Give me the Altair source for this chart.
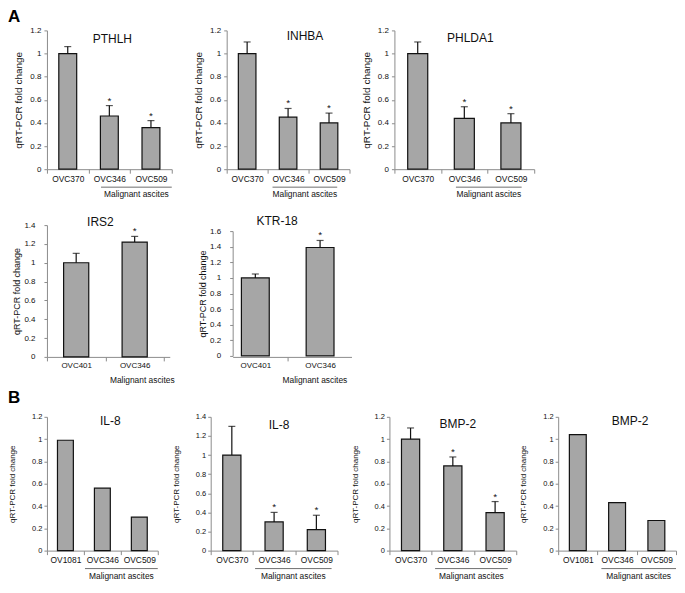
import json
import altair as alt
import pandas as pd

FONT = "Liberation Sans"

# ---------------- data ----------------
y_title = "qRT-PCR fold change"
group_label = "Malignant ascites"

pthlh_cats = ["OVC370", "OVC346", "OVC509"]
pthlh_vals = [1.00, 0.46, 0.36]
pthlh_errs = [0.06, 0.09, 0.06]
pthlh_sig = [False, True, True]

inhba_cats = ["OVC370", "OVC346", "OVC509"]
inhba_vals = [1.00, 0.45, 0.40]
inhba_errs = [0.10, 0.075, 0.085]
inhba_sig = [False, True, True]

phlda1_cats = ["OVC370", "OVC346", "OVC509"]
phlda1_vals = [1.00, 0.44, 0.40]
phlda1_errs = [0.10, 0.10, 0.08]
phlda1_sig = [False, True, True]

irs2_cats = ["OVC401", "OVC346"]
irs2_vals = [1.00, 1.22]
irs2_errs = [0.10, 0.06]
irs2_sig = [False, True]

ktr18_cats = ["OVC401", "OVC346"]
ktr18_vals = [1.00, 1.39]
ktr18_errs = [0.05, 0.09]
ktr18_sig = [False, True]

il8a_cats = ["OV1081", "OVC346", "OVC509"]
il8a_vals = [0.99, 0.56, 0.30]

il8b_cats = ["OVC370", "OVC346", "OVC509"]
il8b_vals = [1.00, 0.30, 0.22]
il8b_errs = [0.30, 0.10, 0.15]
il8b_sig = [False, True, True]

bmp2a_cats = ["OVC370", "OVC346", "OVC509"]
bmp2a_vals = [1.00, 0.76, 0.34]
bmp2a_errs = [0.10, 0.08, 0.10]
bmp2a_sig = [False, True, True]

bmp2b_cats = ["OV1081", "OVC346", "OVC509"]
bmp2b_vals = [1.04, 0.43, 0.27]

# ---------------- style / layout ----------------
BAR_FILL = "#a6a6a6"
INK = "#111111"
AXIS_GREY = "#8c8c8c"
BAR_FRAC = 0.43

ROWS = {
    1: dict(h=139, ytf=10, ylf=8, xlf=8.4, ylp=3, ytp=6, line=18, text=25),
    2: dict(h=132, ytf=9, ylf=8, xlf=8, ylp=9, ytp=2, line=18, text=23),
    3: dict(h=134, ytf=8, ylf=7.5, xlf=8.4, ylp=2, ytp=15, line=18, text=25),
}


def panel(title, cats, vals, errs, sig, ymax, row, w, tdx, tdy,
          br=None, lab=None, xdom=None, ytop=0):
    R = ROWS[row]
    H = R["h"]
    n = len(cats)
    errs = errs if errs else [0.0] * n
    sig = sig if sig else [False] * n
    df = pd.DataFrame({
        "cat": cats, "idx": list(range(n)), "val": vals, "err": errs,
        "zero": [0.0] * n, "star": ["*" if s else "" for s in sig],
    })
    xdom = xdom if xdom else [0, n]
    half = BAR_FRAC / 2
    names_js = json.dumps(cats)
    xvals = [k * 0.5 for k in range(2 * n + 1) if xdom[0] <= k * 0.5 <= xdom[1]]
    xaxis = alt.Axis(
        values=xvals, title=None, grid=False,
        labelExpr=f"datum.value % 1 == 0.5 ? {names_js}[floor(datum.value)] : ''",
        tickOpacity={"condition": {"test": "datum.value % 1 == 0.5", "value": 0}, "value": 1},
        labelOverlap=False, labelFlush=False, tickSize=4, labelPadding=1,
        labelFontSize=R["xlf"], labelFont=FONT, labelColor=INK,
        domainColor=AXIS_GREY, tickColor=AXIS_GREY,
    )
    nt = int(round(ymax / 0.2))
    yaxis = alt.Axis(
        values=[round(0.2 * k, 1) for k in range(nt + 1)], format="~g",
        title=y_title, titleFontSize=R["ytf"], titleFont=FONT, titleColor=INK,
        titleFontWeight="normal", titlePadding=R["ytp"],
        labelFontSize=R["ylf"], labelFont=FONT, labelColor=INK, labelPadding=R["ylp"],
        tickSize=3, grid=False, domainColor=AXIS_GREY, tickColor=AXIS_GREY,
    )
    xs = alt.Scale(domain=xdom, nice=False, zero=False)
    if ytop:
        ys = alt.Scale(domain=[0, ymax], nice=False, range=[H - 1, ytop])
    else:
        ys = alt.Scale(domain=[0, ymax], nice=False)

    def X(f):
        return alt.X(f, scale=xs, axis=xaxis)

    def Y(f):
        return alt.Y(f, scale=ys, axis=yaxis)

    base = alt.Chart(df).transform_calculate(
        lo=f"datum.idx + {0.5 - half}", hi=f"datum.idx + {0.5 + half}",
        c="datum.idx + 0.5", top="datum.val + datum.err",
    )
    layers = [
        base.mark_bar(fill=BAR_FILL, stroke=INK, strokeWidth=1.2).encode(
            x=X("lo:Q"), x2="hi:Q", y=Y("val:Q"), y2="zero:Q",
        )
    ]
    if any(e > 0 for e in errs):
        eb = base.transform_filter("datum.err > 0")
        layers.append(eb.mark_rule(color=INK, strokeWidth=1.2).encode(
            x=X("c:Q"), y=Y("val:Q"), y2="top:Q"))
        layers.append(eb.mark_tick(orient="horizontal", size=7, thickness=1.2, color=INK).encode(
            x=X("c:Q"), y=Y("top:Q")))
    if any(sig):
        layers.append(base.transform_filter("datum.star != ''").mark_text(
            font=FONT, fontSize=10, color=INK, baseline="middle", dy=-5).encode(
            x=X("c:Q"), y=Y("top:Q"), text="star:N"))
    if br:
        gdf = pd.DataFrame({"s": [br[0]], "e": [br[1]], "m": [(br[0] + br[1]) / 2],
                            "label": [group_label]})
        layers.append(alt.Chart(gdf).mark_rule(color="#6e6e6e", strokeWidth=1).encode(
            x=X("s:Q"), x2="e:Q", y=alt.value(H + R["line"])))
    else:
        gdf = pd.DataFrame({"m": [lab], "label": [group_label]})
    layers.append(alt.Chart(gdf).mark_text(
        font=FONT, fontSize=8.4, color=INK, baseline="middle").encode(
        x=X("m:Q"), y=alt.value(H + R["text"]), text="label:N"))
    # panel heading
    layers.append(alt.Chart(pd.DataFrame({"t": [title]})).mark_text(
        font=FONT, fontSize=12, color=INK, baseline="middle", align="center").encode(
        x=alt.value(w / 2 + tdx), y=alt.value(tdy), text="t:N"))

    return alt.layer(*layers).properties(width=w, height=H)


def spacer(w, h=10):
    return alt.Chart(pd.DataFrame({"t": [""]})).mark_text().encode(
        x=alt.value(0), y=alt.value(0), text="t:N"
    ).properties(width=w, height=h)


def letter(t, dx, dy):
    return alt.Chart(pd.DataFrame({"t": [t]})).mark_text(
        font=FONT, fontSize=17, fontWeight="bold", color="#000",
        align="left", baseline="middle").encode(
        x=alt.value(dx), y=alt.value(dy), text="t:N"
    ).properties(width=1, height=10)


p_pthlh = panel("PTHLH", pthlh_cats, pthlh_vals, pthlh_errs, pthlh_sig, 1.2, 1, 125, 3, 9, br=(1.3, 3.0))
p_inhba = panel("INHBA", inhba_cats, inhba_vals, inhba_errs, inhba_sig, 1.2, 1, 123, 17, 6, br=(1.12, 2.7))
p_phlda1 = panel("PHLDA1", phlda1_cats, phlda1_vals, phlda1_errs, phlda1_sig, 1.2, 1, 140, 6, 8, br=(1.32, 2.73))

p_irs2 = panel("IRS2", irs2_cats, irs2_vals, irs2_errs, irs2_sig, 1.4, 2, 123, -8, -3, lab=1.63, xdom=[0, 2.1])
p_ktr = panel("KTR-18", ktr18_cats, ktr18_vals, ktr18_errs, ktr18_sig, 1.6, 2, 119, -15, -4,
              lab=1.42, xdom=[0.15, 1.985], ytop=6)

p_il8a = panel("IL-8", il8a_cats, il8a_vals, None, None, 1.2, 3, 111, 8, 4, br=(1.03, 3.0))
p_il8b = panel("IL-8", il8b_cats, il8b_vals, il8b_errs, il8b_sig, 1.4, 3, 127, 5, 8, br=(1.05, 2.86))
p_bmp2a = panel("BMP-2", bmp2a_cats, bmp2a_vals, bmp2a_errs, bmp2a_sig, 1.2, 3, 127, 5, 7, br=(1.08, 2.8))
p_bmp2b = panel("BMP-2", bmp2b_cats, bmp2b_vals, None, None, 1.2, 3, 118, 13, 4, br=(1.1, 3.0))


def row(*cells):
    return alt.hconcat(*cells, spacing=0, bounds="flush")


row1 = row(letter("A", -38, -13), p_pthlh, spacer(55), p_inhba, spacer(45), p_phlda1)
row2 = row(spacer(1), p_irs2, spacer(63), p_ktr)
row3 = row(letter("B", -38, -19), p_il8a, spacer(53), p_il8b, spacer(52), p_bmp2a,
           spacer(42), p_bmp2b)

chart = alt.vconcat(
    alt.vconcat(row1, row2, spacing=16),
    row3, spacing=4,
).properties(
    padding={"left": 0, "top": 0, "right": 0, "bottom": 0}, background="white",
).configure_view(strokeWidth=0, strokeOpacity=0)

chart.save("out.html", embed_options={"renderer": "svg", "actions": False})
